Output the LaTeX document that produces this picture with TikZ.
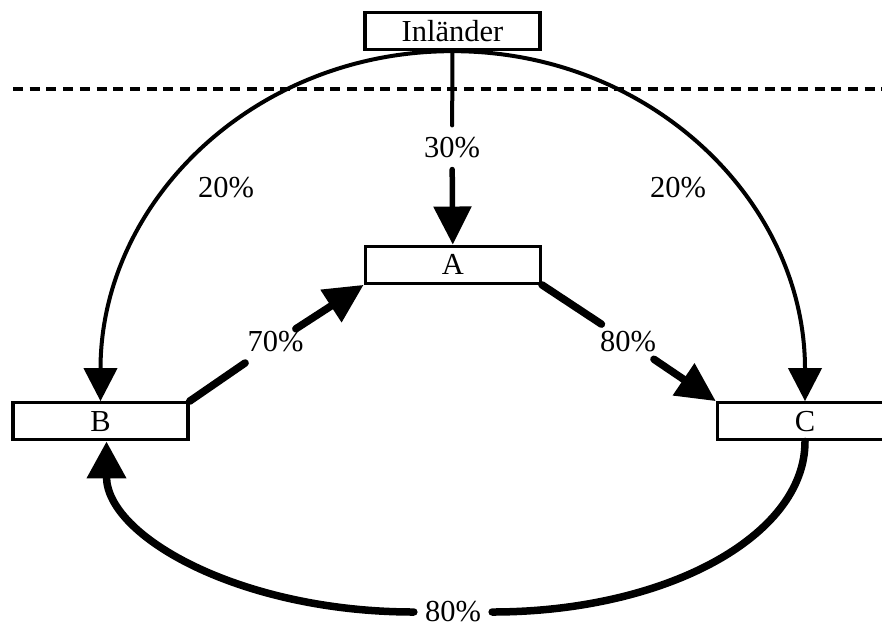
\documentclass[tikz,border=0pt]{standalone}
\usepackage{fontspec}
\setmainfont{Liberation Serif}
\usetikzlibrary{arrows.meta}
\begin{document}
\begin{tikzpicture}[x=1pt,y=-1pt,
  box/.style={draw,line width=3.3pt,minimum width=175pt,minimum height=37pt,inner sep=0pt,font=\fontsize{30.5}{34}\selectfont},
  lbl/.style={inner sep=7pt,font=\fontsize{30.5}{34}\selectfont},
  thinline/.style={line width=4pt,line cap=round},
  medline/.style={line width=5.5pt,line cap=round},
  thickline/.style={line width=7.5pt,line cap=round},
  dashline/.style={line width=3.5pt,dash pattern=on 10pt off 6.7pt}
]
\useasboundingbox (0,0) rectangle (882,627);
% boxes
\node[box] (Inl) at (452.5,31) {Inländer};
\node[box] (A) at (452.8,264.7) {A};
\node[box] (B) at (100.5,421.3) {B};
\node[box] (C) at (805,421.3) {C};
% dashed border line
\coordinate (dl) at (13,89);
\coordinate (dr) at (882,89);
\draw[dashline] (dl) -- (dr);
% labels
\node[lbl,inner ysep=11.5pt] (l30) at (452,147.5) {30\%};
\node[lbl] (l20a) at (226,188) {20\%};
\node[lbl] (l20b) at (678,188) {20\%};
\node[lbl] (l70) at (275.5,342) {70\%};
\node[lbl] (l80r) at (628,341.7) {80\%};
\node[lbl,inner xsep=11pt,inner ysep=1pt] (l80b) at (453,612) {80\%};
% vertical Inländer -> A
\draw[thinline] (Inl.south) -- (l30);
\draw[medline,-{Triangle[length=38pt,width=37pt]}] (l30) -- (A.north);
% arcs Inländer -> B, C
\draw[thinline,-{Triangle[length=33pt,width=33pt]}] (Inl.south) .. controls +(-198,0) and +(0,-200) .. (B.north);
\draw[thinline,-{Triangle[length=33pt,width=33pt]}] (Inl.south) .. controls +(198,0) and +(0,-200) .. (C.north);
% B -> A
\draw[thickline,shorten >=6pt] (B.north east) -- (l70);
\draw[thickline,shorten <=-8pt,-{Triangle[length=39pt,width=37pt]}] (l70) -- (A.south west);
% A -> C
\draw[thickline] (A.south east) -- (l80r);
\draw[thickline,-{Triangle[length=39pt,width=37pt]}] (l80r) -- (C.north west);
% C -> B bottom
\draw[thickline] (C.south) .. controls +(0,95) and +(173,0) .. (l80b.east);
\draw[thickline,-{Triangle[length=37pt,width=38pt]}] (l80b.west) .. controls +(-173,0) and +(0,95) .. ([xshift=6pt]B.south);
\end{tikzpicture}
\end{document}
